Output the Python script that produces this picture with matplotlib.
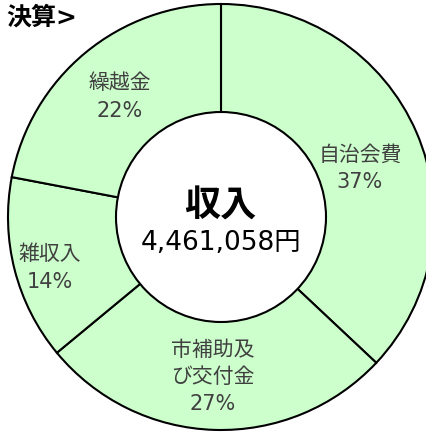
import matplotlib
matplotlib.use('Agg')
import matplotlib.pyplot as plt
from matplotlib.patches import Circle

# 数字はDejaVu、漢字はNoto Sans CJK JP
plt.rcParams['font.family'] = ['DejaVu Sans', 'Noto Sans CJK JP']

# データ
categories = ['自治会費', '市補助及\nび交付金', '雑収入', '繰越金']
shares = [37, 27, 14, 22]
center_title = '収入'
center_total = '4,461,058円'
heading = '決算>'

fig = plt.figure(figsize=(4.27, 4.32), dpi=100)
ax = fig.add_axes([0, 0, 1, 1])

cx, cy, r_out, r_in = 221, 432 - 217, 213, 105
wedges, _ = ax.pie(shares, startangle=90, counterclock=False,
                   center=(cx, cy), radius=r_out,
                   colors=['#ccffcc'] * len(shares),
                   wedgeprops=dict(edgecolor='black', linewidth=1.5))
ax.add_patch(Circle((cx, cy), r_in, facecolor='white', edgecolor='black',
                    linewidth=1.5, zorder=5))

# ラベル位置（ピクセル）
label_pos = [(360, 432 - 168), (213, 432 - 377), (50, 432 - 268), (120, 432 - 97)]
for (x, y), name, v in zip(label_pos, categories, shares):
    ax.text(x, y, f'{name}\n{v}%', ha='center', va='center', fontsize=15,
            color='#404040', linespacing=1.45, zorder=6)

ax.text(220, 432 - 207, center_title, ha='center', va='center', fontsize=26,
        fontweight='bold', color='black', zorder=6)
ax.text(221, 432 - 243, center_total, ha='center', va='center', fontsize=19,
        color='black', zorder=6)
ax.text(6, 432 - 18, heading, ha='left', va='center', fontsize=18,
        fontweight='bold', color='black', zorder=6)

ax.set_xlim(0, 427)
ax.set_ylim(0, 432)
ax.set_aspect('equal')
ax.axis('off')

fig.savefig('out.png', dpi=100, facecolor='white')
